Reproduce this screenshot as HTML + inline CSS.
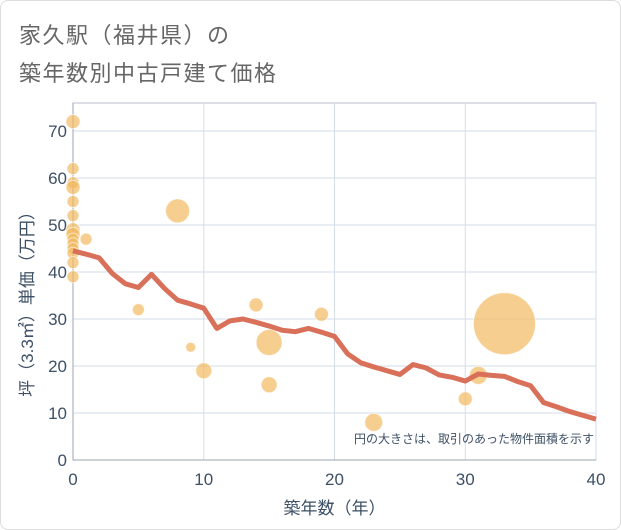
<!DOCTYPE html>
<html><head><meta charset="utf-8"><style>
body{margin:0;background:#fff;}
#wrap{position:relative;width:619px;height:528px;border:1px solid #ddd;border-radius:8px;background:#fff;overflow:hidden;}
.title{position:absolute;left:18px;font:22px "Liberation Sans","Noto Sans CJK JP",sans-serif;color:#666;letter-spacing:1.5px;}
svg text{font-family:"Liberation Sans","Noto Sans CJK JP",sans-serif;}
</style></head><body>
<div id="wrap">
<div class="title" style="top:17px">家久駅（福井県）の</div>
<div class="title" style="top:55px">築年数別中古戸建て価格</div>
<svg id="chart" width="621" height="530" style="position:absolute;left:-1px;top:-1px"></svg>
</div>
<script>
const xTicks=[0,10,20,30,40];
const yTicks=[0,10,20,30,40,50,60,70];
const lineYears=[0,1,2,3,4,5,6,7,8,9,10,11,12,13,14,15,16,17,18,19,20,21,22,23,24,25,26,27,28,29,30,31,32,33,34,35,36,37,38,39,40];
const lineValues=[44.5,43.8,43,39.7,37.5,36.7,39.5,36.5,34,33.2,32.3,28,29.6,30,29.3,28.5,27.6,27.3,28,27.2,26.3,22.6,20.7,19.8,19,18.2,20.3,19.6,18.1,17.6,16.8,18.3,18,17.8,16.7,15.8,12.2,11.3,10.3,9.5,8.7];
const ptAges=[0,0,0,0,0,0,0,0,0,0,0,0,0,0,1,5,8,9,10,14,15,15,19,23,30,31,33];
const ptPrices=[72,62,59,58,55,52,49,48,47,46,45,44,42,39,47,32,53,24,19,33,25,16,31,8,13,18,29];
const ptRadius=[7,6,6,7,6,6,7,7,6,6,6,6,6,6,6,6,12,5,8,7,13,8,7,9,7,9,31];
const X0=73,X1=596,Y0=460,YTOP=103;
const xs=v=>X0+(X1-X0)*v/40;
const ys=v=>Y0-(Y0-131)*v/70;
const svg=document.getElementById('chart');
const NS='http://www.w3.org/2000/svg';
function mk(t,a){const e=document.createElementNS(NS,t);for(const k in a)e.setAttribute(k,a[k]);svg.appendChild(e);return e;}
let bg=mk('rect',{x:X0,y:YTOP,width:X1-X0,height:Y0-YTOP,fill:'#fff',stroke:'#b8c2cc'});


xTicks.forEach(t=>{
 let g=mk('line',{x1:xs(t),x2:xs(t),y1:YTOP,y2:Y0,stroke:'#d3dde8','stroke-width':1});
 
 
 let l=mk('text',{x:xs(t),y:Y0+25,'text-anchor':'middle','font-size':17,fill:'#3d5066'});l.textContent=t;
 
 
});
yTicks.forEach(t=>{
 let g=mk('line',{x1:X0,x2:X1,y1:ys(t),y2:ys(t),stroke:'#d3dde8','stroke-width':1});
 
 
 let l=mk('text',{x:X0-6,y:ys(t)+6,'text-anchor':'end','font-size':17,fill:'#3d5066'});l.textContent=t;
 
 
});
let ax=mk('line',{x1:X0,x2:X0,y1:YTOP,y2:Y0,stroke:'#9aa5b1'});


let bx=mk('line',{x1:X0,x2:X1,y1:Y0,y2:Y0,stroke:'#9aa5b1'});


ptAges.forEach((a,i)=>{
 let c=mk('circle',{cx:xs(a),cy:ys(ptPrices[i]),r:ptRadius[i],fill:'rgba(242,185,95,0.7)',stroke:'rgba(255,255,255,0.6)'});
 
 
});
let p=mk('polyline',{points:lineYears.map((y,i)=>xs(y)+','+ys(lineValues[i])).join(' '),fill:'none',stroke:'#d9705a','stroke-width':5,'stroke-linejoin':'round'});


let n=mk('text',{x:594,y:443,'text-anchor':'end','font-size':12,fill:'#3d5066'});n.textContent='円の大きさは、取引のあった物件面積を示す';


let xt=mk('text',{x:(X0+X1)/2,y:514,'text-anchor':'middle','font-size':17,fill:'#3d5066'});xt.textContent='築年数（年）';


let yt=mk('text',{x:0,y:0,'text-anchor':'middle','font-size':17,fill:'#3d5066',transform:'translate(33,300) rotate(-90)'});yt.textContent='坪（3.3㎡）単価（万円）';


</script>
</body></html>
